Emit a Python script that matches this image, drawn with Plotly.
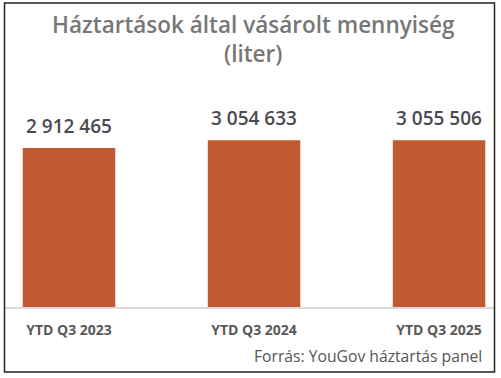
import plotly.graph_objects as go

categories = ["YTD Q3 2023", "YTD Q3 2024", "YTD Q3 2025"]
values = [2912465, 3054633, 3055506]
title_line1 = "Háztartások által vásárolt mennyiség"
title_line2 = "(liter)"
source = "Forrás: YouGov háztartás panel"

W, H = 501, 378
L, R, T, B = 5, 7, 80, 71
pw, ph = W - L - R, H - T - B

def px(x):
    return (x - L) / pw

def py(y):
    return (H - B - y) / ph

FONT = "Open Sans"
labels = [f"{v:,}".replace(",", " ") for v in values]

fig = go.Figure()
fig.add_trace(go.Bar(
    x=categories, y=values, width=0.5,
    marker=dict(color="#C05A32", line=dict(width=0)),
    hoverinfo="skip",
))

for c, v, lab in zip(categories, values, labels):
    fig.add_annotation(x=c, y=v, text=lab, showarrow=False, xanchor="center",
                       yanchor="bottom", yshift=7,
                       font=dict(family=FONT, size=19, color="#4A4A52", weight=600))

fig.add_annotation(xref="paper", yref="paper", x=px(253), y=py(39),
                   text=title_line1 + "<br>" + title_line2,
                   showarrow=False, xanchor="center", yanchor="middle", align="center",
                   font=dict(family=FONT, size=22.5, color="#777777", weight=600))
fig.add_annotation(xref="paper", yref="paper", x=px(484), y=py(356), text=source,
                   showarrow=False, xanchor="right", yanchor="middle",
                   font=dict(family=FONT, size=15.7, color="#555555", weight=400))

fig.add_shape(type="rect", xref="paper", yref="paper",
              x0=px(4.5), x1=px(494.5), y0=py(372), y1=py(3),
              line=dict(color="#222222", width=1.5), layer="above")

fig.update_layout(
    width=W, height=H,
    margin=dict(l=L, r=R, t=T, b=B),
    paper_bgcolor="white", plot_bgcolor="white",
    showlegend=False,
    bargap=0.5,
    xaxis=dict(type="category", range=[-0.346, 2.297], showgrid=False,
               showline=True, linecolor="#D9D9D9", linewidth=2,
               ticks="", tickfont=dict(family=FONT, size=14, color="#595959", weight=700),
               ticklabelstandoff=9),
    yaxis=dict(range=[0, 4158000], visible=False, showgrid=False, zeroline=False),
)

fig.write_html("out.html")
